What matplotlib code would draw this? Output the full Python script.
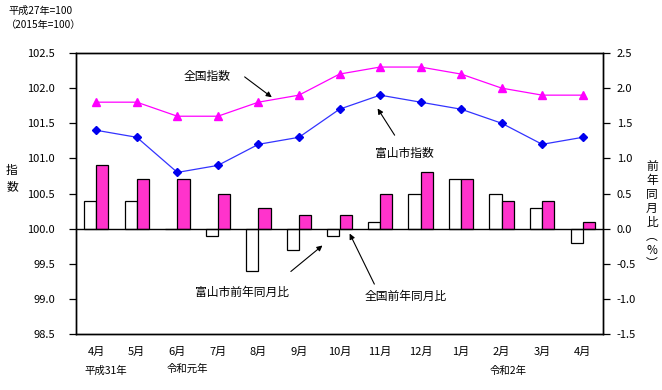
import matplotlib
matplotlib.use("Agg")
import matplotlib.pyplot as plt
import numpy as np

plt.rcParams['font.family'] = ['Noto Sans CJK JP', 'DejaVu Sans']

months = ["4月", "5月", "6月", "7月", "8月", "9月", "10月", "11月", "12月", "1月", "2月", "3月", "4月"]
toyama_index = [101.4, 101.3, 100.8, 100.9, 101.2, 101.3, 101.7, 101.9, 101.8, 101.7, 101.5, 101.2, 101.3]
national_index = [101.8, 101.8, 101.6, 101.6, 101.8, 101.9, 102.2, 102.3, 102.3, 102.2, 102.0, 101.9, 101.9]
toyama_yoy = [0.4, 0.4, 0.0, -0.1, -0.6, -0.3, -0.1, 0.1, 0.5, 0.7, 0.5, 0.3, -0.2]
national_yoy = [0.9, 0.7, 0.7, 0.5, 0.3, 0.2, 0.2, 0.5, 0.8, 0.7, 0.4, 0.4, 0.1]
left_ticks = [98.5, 99.0, 99.5, 100.0, 100.5, 101.0, 101.5, 102.0, 102.5]
right_ticks = [-1.5, -1.0, -0.5, 0.0, 0.5, 1.0, 1.5, 2.0, 2.5]

W, H = 662, 390
fig = plt.figure(figsize=(W / 100, H / 100), dpi=100)
ax = fig.add_axes([76 / W, (H - 334) / H, (603 - 76) / W, (334 - 53) / H])
ax2 = ax.twinx()
ax.set_zorder(ax2.get_zorder() + 1)
ax.patch.set_visible(False)

x = np.arange(len(months))
bw = 0.3
ax2.bar(x - bw / 2, toyama_yoy, width=bw, color='white', edgecolor='black', linewidth=0.9)
ax2.bar(x + bw / 2, national_yoy, width=bw, color='#FF33CC', edgecolor='black', linewidth=0.9)
ax2.axhline(0, color='black', linewidth=1.0)

ax.plot(x, national_index, color='#FF00FF', linewidth=0.9, marker='^', markersize=5.5,
        markerfacecolor='#FF00FF', markeredgecolor='#FF00FF')
ax.plot(x, toyama_index, color='#3333FF', linewidth=0.9, marker='D', markersize=4.5,
        markerfacecolor='#0000EE', markeredgecolor='#0000EE')

ax.set_xlim(-0.5, len(months) - 0.5)
ax.set_ylim(98.5, 102.5)
ax2.set_ylim(-1.5, 2.5)
ax.set_yticks(left_ticks)
ax.set_yticklabels([f"{v:.1f}" for v in left_ticks])
ax2.set_yticks(right_ticks)
ax2.set_yticklabels([f"{v:.1f}" for v in right_ticks])
ax.set_xticks(x)
ax.set_xticklabels(months)

ax.tick_params(axis='x', length=0, pad=9, labelsize=8)
ax.tick_params(axis='y', length=5, width=0.9, pad=10, labelsize=8, direction='out')
ax2.tick_params(axis='y', length=5, width=0.9, pad=5, labelsize=8, direction='out')
for a in (ax, ax2):
    for s in a.spines.values():
        s.set_linewidth(1.0)
        s.set_color('black')

ap = dict(arrowstyle='-|>', color='black', lw=0.8, mutation_scale=8, shrinkA=0, shrinkB=0)
fs = 8.5
ax.text(2.73, 102.17, "全国指数", fontsize=fs, ha='center', va='center')
ax.annotate("", xy=(4.33, 101.87), xytext=(3.66, 102.16), arrowprops=ap)
ax.text(7.60, 101.07, "富山市指数", fontsize=fs, ha='center', va='center')
ax.annotate("", xy=(6.94, 101.71), xytext=(7.36, 101.33), arrowprops=ap)
ax.text(3.59, 99.09, "富山市前年同月比", fontsize=fs, ha='center', va='center')
ax.annotate("", xy=(5.58, 99.76), xytext=(4.80, 99.39), arrowprops=ap)
ax.text(7.63, 99.04, "全国前年同月比", fontsize=fs, ha='center', va='center')
ax.annotate("", xy=(6.25, 99.93), xytext=(6.86, 99.21), arrowprops=ap)

fig.text(8 / W, 1 - 11 / H, "平成27年=100", fontsize=7.3, ha='left', va='center')
fig.text(6 / W, 1 - 25 / H, "（2015年=100）", fontsize=7.3, ha='left', va='center')
fig.text(106 / W, 1 - 371 / H, "平成31年", fontsize=7.5, ha='center', va='center')
fig.text(187 / W, 1 - 369 / H, "令和元年", fontsize=7.5, ha='center', va='center')
fig.text(508 / W, 1 - 371 / H, "令和2年", fontsize=7.5, ha='center', va='center')
fig.text(12 / W, 1 - 179 / H, "指\n数", fontsize=8.5, ha='center', va='center', linespacing=1.3)
fig.text(652 / W, 1 - 215 / H, "前\n年\n同\n月\n比\n︵\n%\n︶", fontsize=8.5,
         ha='center', va='center', linespacing=1.1)

fig.savefig("out.png", dpi=100)
